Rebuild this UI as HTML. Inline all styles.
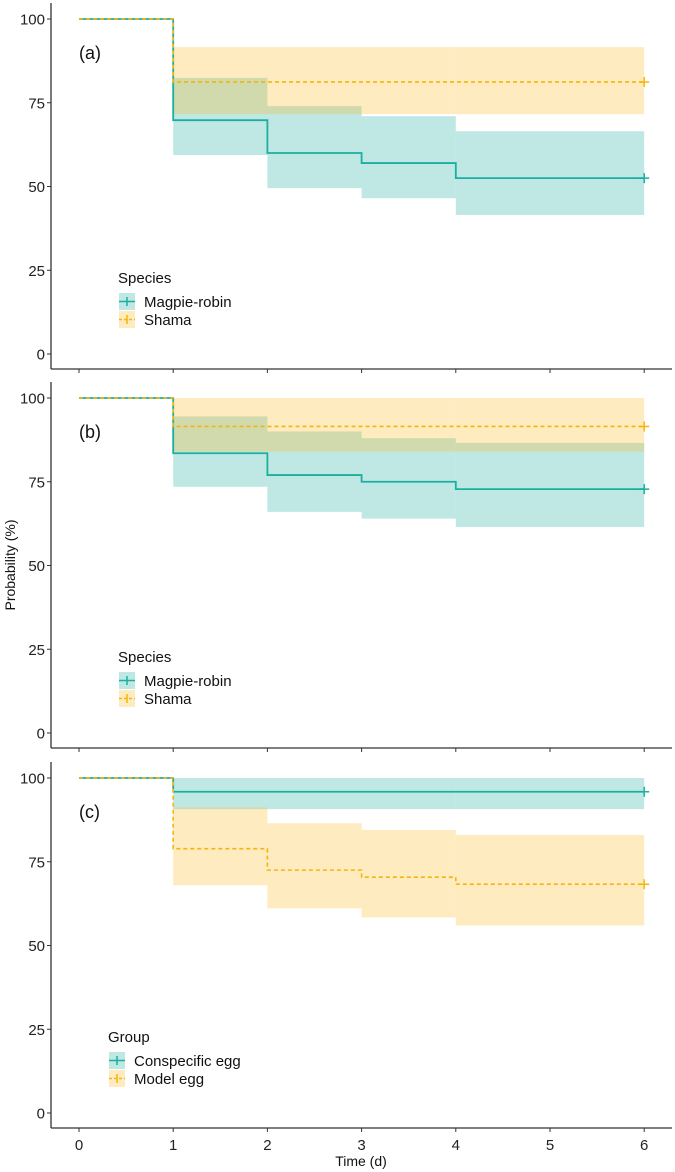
<!DOCTYPE html>
<html><head><meta charset="utf-8"><style>
html,body{margin:0;padding:0;background:#fff;}
svg{display:block;font-family:"Liberation Sans",Arial,sans-serif;}
</style></head><body>
<svg id="chart" width="675" height="1172" viewBox="0 0 675 1172" xmlns="http://www.w3.org/2000/svg"></svg>
<script>
const times = [0, 1, 2, 3, 4, 6];
const yTicks = [0, 25, 50, 75, 100];
const xTicks = [0, 1, 2, 3, 4, 5, 6];
const panelLabels = ["(a)", "(b)", "(c)"];
const legendTitles = ["Species", "Species", "Group"];
const legendNamesA = ["Magpie-robin", "Shama"];
const legendNamesC = ["Conspecific egg", "Model egg"];
// panel a
const aTealEst = [100, 69.8, 60, 57, 52.5];
const aTealLo = [100, 59.4, 49.5, 46.5, 41.5];
const aTealHi = [100, 82.4, 74, 71, 66.5];
const aYelEst = [100, 81.2, 81.2, 81.2, 81.2];
const aYelLo = [100, 71.6, 71.6, 71.6, 71.6];
const aYelHi = [100, 91.6, 91.6, 91.6, 91.6];
// panel b
const bTealEst = [100, 83.5, 77, 75, 72.8];
const bTealLo = [100, 73.5, 66, 64, 61.5];
const bTealHi = [100, 94.5, 90, 88, 86.6];
const bYelEst = [100, 91.5, 91.5, 91.5, 91.5];
const bYelLo = [100, 84, 84, 84, 84];
const bYelHi = [100, 100, 100, 100, 100];
// panel c
const cTealEst = [100, 95.9, 95.9, 95.9, 95.9];
const cTealLo = [100, 90.7, 90.7, 90.7, 90.7];
const cTealHi = [100, 100, 100, 100, 100];
const cYelEst = [100, 78.9, 72.5, 70.4, 68.3];
const cYelLo = [100, 68, 61.1, 58.4, 56];
const cYelHi = [100, 91.2, 86.5, 84.5, 83];

const TEAL = "#1aaf9f", YEL = "#f5b50a", TEALF = "rgba(26,173,162,0.28)", YELF = "rgba(251,183,30,0.28)";
const TEALK = "#bfe8e5", YELK = "#feebc0";
const svg = document.getElementById('chart');
const NS = "http://www.w3.org/2000/svg";
function mk(tag, attrs, parent) {
  const e = document.createElementNS(NS, tag);
  for (const k in attrs) e.setAttribute(k, attrs[k]);
  (parent || svg).appendChild(e);
  return e;
}
const X0 = 79, XS = 94.2;
function xs(t) { return X0 + t * XS; }
const panels = [
  {y100: 19, tE: aTealEst, tL: aTealLo, tH: aTealHi, yE: aYelEst, yL: aYelLo, yH: aYelHi, names: legendNamesA},
  {y100: 398, tE: bTealEst, tL: bTealLo, tH: bTealHi, yE: bYelEst, yL: bYelLo, yH: bYelHi, names: legendNamesA},
  {y100: 778, tE: cTealEst, tL: cTealLo, tH: cTealHi, yE: cYelEst, yL: cYelLo, yH: cYelHi, names: legendNamesC}
];
const YS = 3.35;
function stepPath(vals, ys) {
  let d = "M" + xs(times[0]) + "," + ys(vals[0]);
  for (let i = 1; i < times.length; i++) {
    d += " H" + xs(times[i]);
    if (i < vals.length) d += " V" + ys(vals[i]);
  }
  return d;
}
function band(lo, hi, ys, fill, g, name) {
  for (let i = 1; i < lo.length; i++) {
    const r = mk('rect', {x: xs(times[i]), y: ys(hi[i]), width: xs(times[i + 1]) - xs(times[i]), height: ys(lo[i]) - ys(hi[i]), fill: fill}, g);
    
    
  }
}
panels.forEach((p, pi) => {
  const g = mk('g', {});
  
  
  const ys = v => p.y100 + (100 - v) * YS;
  const y0 = ys(0);
  const axisY = y0 + 15;
  band(p.tL, p.tH, ys, TEALF, g, 'ci-band-1');
  band(p.yL, p.yH, ys, YELF, g, 'ci-band-2');
  const l1 = mk('path', {d: stepPath(p.tE, ys), fill: "none", stroke: TEAL, "stroke-width": 1.8}, g);
  
  
  const l2 = mk('path', {d: stepPath(p.yE, ys), fill: "none", stroke: YEL, "stroke-width": 1.6, "stroke-dasharray": "4,3"}, g);
  
  
  [[p.tE, TEAL], [p.yE, YEL]].forEach(([v, c]) => {
    const cx = xs(6), cy = ys(v[v.length - 1]);
    const m = mk('path', {d: `M${cx - 5},${cy} H${cx + 5} M${cx},${cy - 5} V${cy + 5}`, stroke: c, "stroke-width": 1.5}, g);
    
    
  });
  const ya = mk('line', {x1: 51, y1: p.y100 - 16, x2: 51, y2: axisY, stroke: "#333", "stroke-width": 1.3}, g);
  
  
  const xa = mk('line', {x1: 51, y1: axisY, x2: 672, y2: axisY, stroke: "#333", "stroke-width": 1.3}, g);
  
  
  yTicks.forEach(v => {
    mk('line', {x1: 47, y1: ys(v), x2: 51, y2: ys(v), stroke: "#333", "stroke-width": 1}, g);
    const t = mk('text', {x: 45, y: ys(v) + 5.5, "text-anchor": "end", "font-size": 15, fill: "#222"}, g);
    t.textContent = v;
    
    
  });
  xTicks.forEach(v => {
    mk('line', {x1: xs(v), y1: axisY, x2: xs(v), y2: axisY + 4, stroke: "#333", "stroke-width": 1}, g);
    if (pi === 2) {
      const t = mk('text', {x: xs(v), y: axisY + 22, "text-anchor": "middle", "font-size": 15, fill: "#222"}, g);
      t.textContent = v;
      
      
    }
  });
  const pl = mk('text', {x: 79, y: p.y100 + 40, "font-size": 18, fill: "#111"}, g);
  pl.textContent = panelLabels[pi];
  
  
  const lx = pi === 2 ? 109 : 119;
  const lt = p.y100 + 264;
  const tt = mk('text', {x: lx - 1, y: lt, "font-size": 15, fill: "#111"}, g);
  tt.textContent = legendTitles[pi];
  
  
  [[TEALK, TEAL, ""], [YELK, YEL, "3,2"]].forEach(([f, c, da], i) => {
    const ky = lt + 10 + i * 18;
    const lg = mk('g', {}, g);
    
    
    mk('rect', {x: lx, y: ky, width: 16, height: 17, fill: f}, lg);
    mk('line', {x1: lx, y1: ky + 8.5, x2: lx + 16, y2: ky + 8.5, stroke: c, "stroke-width": 1.5, "stroke-dasharray": da}, lg);
    mk('line', {x1: lx + 8, y1: ky + 4, x2: lx + 8, y2: ky + 13, stroke: c, "stroke-width": 1.5}, lg);
    const tx = mk('text', {x: lx + 25, y: ky + 14, "font-size": 15, fill: "#111"}, lg);
    tx.textContent = p.names[i];
  });
});
const xt = mk('text', {x: 361, y: 1166, "text-anchor": "middle", "font-size": 14, fill: "#111"});
xt.textContent = "Time (d)";


const yt = mk('text', {x: 0, y: 0, "text-anchor": "middle", "font-size": 14, fill: "#111", transform: "translate(15,565) rotate(-90)"});
yt.textContent = "Probability (%)";


</script>
</body></html>
